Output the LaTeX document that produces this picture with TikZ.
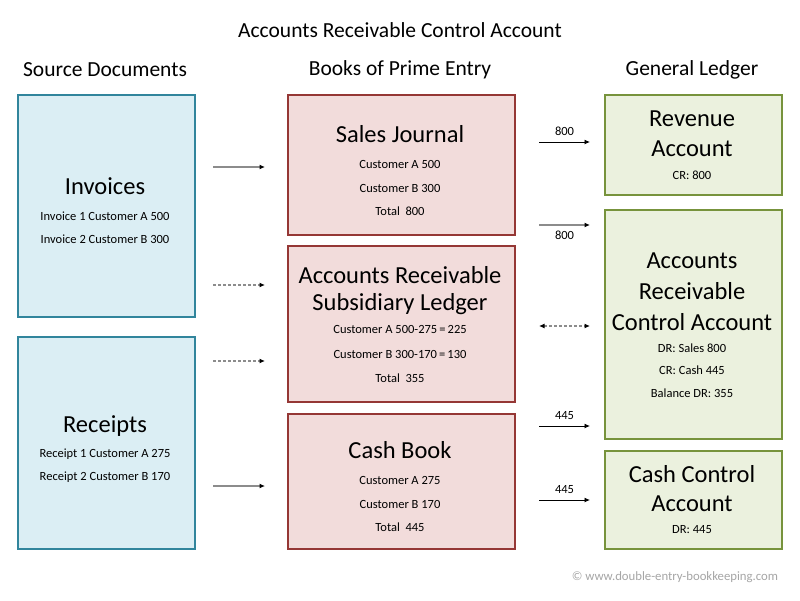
\documentclass[tikz,border=0pt]{standalone}
\usepackage{fontspec}
\setmainfont{Carlito}
\usetikzlibrary{arrows.meta}
\definecolor{bfill}{HTML}{DBEEF4}
\definecolor{bline}{HTML}{31859C}
\definecolor{rfill}{HTML}{F2DCDB}
\definecolor{rline}{HTML}{953735}
\definecolor{gfill}{HTML}{EBF1DE}
\definecolor{gline}{HTML}{77933C}
\definecolor{arrgray}{HTML}{8C8C8C}
\definecolor{cgray}{HTML}{A6A6A6}
\tikzset{
  x=1pt,y=-1pt,
  box/.style={draw,line width=1.6pt,inner sep=0pt,anchor=north west},
  bluebox/.style={box,fill=bfill,draw=bline},
  redbox/.style={box,fill=rfill,draw=rline},
  greenbox/.style={box,fill=gfill,draw=gline},
  big/.style={font=\fontsize{24.5}{26}\selectfont,inner sep=0pt},
  small/.style={font=\fontsize{12.5}{14}\selectfont,inner sep=0pt},
  head/.style={font=\fontsize{21.5}{23}\selectfont,inner sep=0pt},
  lbl/.style={font=\fontsize{12.5}{14}\selectfont,inner sep=0pt},
  tip/.style={-{Latex[length=5.5pt,width=5pt,color=black]}},
  solidg/.style={tip,draw=arrgray,line width=1.3pt},
  solidk/.style={tip,draw=black,line width=0.9pt},
  dashg/.style={tip,draw=arrgray,line width=1.3pt,dash pattern=on 3pt off 2pt},
}
\begin{document}
\begin{tikzpicture}
\useasboundingbox (0,0) rectangle (800,600);
\fill[white] (0,0) rectangle (800,600);
% title and headers
\node[head] (title) at (400,30) {Accounts Receivable Control Account};
\node[head] (h1) at (105,70) {Source Documents};
\node[head] (h2) at (400,70) {Books of Prime Entry};
\node[head] (h3) at (692,70) {General Ledger};
% boxes
\node[bluebox,minimum width=177pt,minimum height=222pt] (inv) at (17,94) {};
\node[bluebox,minimum width=177pt,minimum height=212pt] (rec) at (17,336) {};
\node[redbox,minimum width=227pt,minimum height=140pt] (sj) at (287,94) {};
\node[redbox,minimum width=227pt,minimum height=156pt] (ars) at (287,245) {};
\node[redbox,minimum width=227pt,minimum height=135pt] (cb) at (287,413) {};
\node[greenbox,minimum width=177pt,minimum height=100pt] (rev) at (604,94) {};
\node[greenbox,minimum width=177pt,minimum height=229pt] (arc) at (604,209) {};
\node[greenbox,minimum width=177pt,minimum height=98pt] (ccb) at (604,450) {};
% invoices
\node[big] (t1) at (105,186) {Invoices};
\node[small] (t1a) at (105,216) {Invoice 1 Customer A 500};
\node[small] (t1b) at (105,239) {Invoice 2 Customer B 300};
% receipts
\node[big] (t2) at (105,426) {Receipts};
\node[small] (t2a) at (105,454) {Receipt 1 Customer A 275};
\node[small] (t2b) at (105,477) {Receipt 2 Customer B 170};
% sales journal
\node[big] (t3) at (400,134) {Sales Journal};
\node[small] (t3a) at (400,164) {Customer A 500};
\node[small] (t3b) at (400,188) {Customer B 300};
\node[small] (t3c) at (400,211) {Total~~800};
% AR subsidiary
\node[big] (t4) at (400,275) {Accounts Receivable};
\node[big] (t4b) at (400,304) {Subsidiary Ledger};
\node[small] (t4c) at (400,329) {Customer A 500-275\,=\,225};
\node[small] (t4d) at (400,354) {Customer B 300-170\,=\,130};
\node[small] (t4e) at (400,378) {Total~~355};
% cash book
\node[big] (t5) at (400,450) {Cash Book};
\node[small] (t5a) at (400,480) {Customer A 275};
\node[small] (t5b) at (400,504) {Customer B 170};
\node[small] (t5c) at (400,527) {Total~~445};
% revenue
\node[big] (t6) at (692,119) {Revenue};
\node[big] (t6b) at (692,149) {Account};
\node[small] (t6c) at (692,175) {CR: 800};
% AR control
\node[big] (t7) at (692,261) {Accounts};
\node[big] (t7b) at (692,291) {Receivable};
\node[big] (t7c) at (692,322) {Control Account};
\node[small] (t7d) at (692,348) {DR: Sales 800};
\node[small] (t7e) at (692,370) {CR: Cash 445};
\node[small] (t7f) at (692,393) {Balance DR: 355};
% cash control
\node[big] (t8) at (692,474) {Cash Control};
\node[big] (t8b) at (692,504) {Account};
\node[small] (t8c) at (692,530) {DR: 445};
% arrow coordinates
\coordinate (a1s) at (213,167); \coordinate (a1e) at (265,167);
\coordinate (a2s) at (213,285); \coordinate (a2e) at (265,285);
\coordinate (a3s) at (213,361); \coordinate (a3e) at (265,361);
\coordinate (a4s) at (213,486); \coordinate (a4e) at (265,486);
\coordinate (b1s) at (539,142); \coordinate (b1e) at (590,142);
\coordinate (b2s) at (539,225); \coordinate (b2e) at (590,225);
\coordinate (b3s) at (539,326); \coordinate (b3e) at (590,326);
\coordinate (b4s) at (539,426); \coordinate (b4e) at (590,426);
\coordinate (b5s) at (539,500); \coordinate (b5e) at (590,500);
\draw[solidg] (a1s) -- (a1e);
\draw[dashg] (a2s) -- (a2e);
\draw[dashg] (a3s) -- (a3e);
\draw[solidg] (a4s) -- (a4e);
\draw[solidk] (b1s) -- node[lbl,above=6pt] (l1) {800} (b1e);
\draw[solidg] (b2s) -- node[lbl,below=5pt] (l2) {800} (b2e);
\draw[dashg,{Latex[length=5.5pt,width=5pt,color=black]}-{Latex[length=5.5pt,width=5pt,color=black]}] (b3s) -- (b3e);
\draw[solidk] (b4s) -- node[lbl,above=6pt] (l4) {445} (b4e);
\draw[solidk] (b5s) -- node[lbl,above=6pt] (l5) {445} (b5e);
% copyright
\node[font=\fontsize{12.75}{14}\selectfont,text=cgray,inner sep=0pt] (copy) at (675,577) {© www.double-entry-bookkeeping.com};
\end{tikzpicture}
\end{document}
